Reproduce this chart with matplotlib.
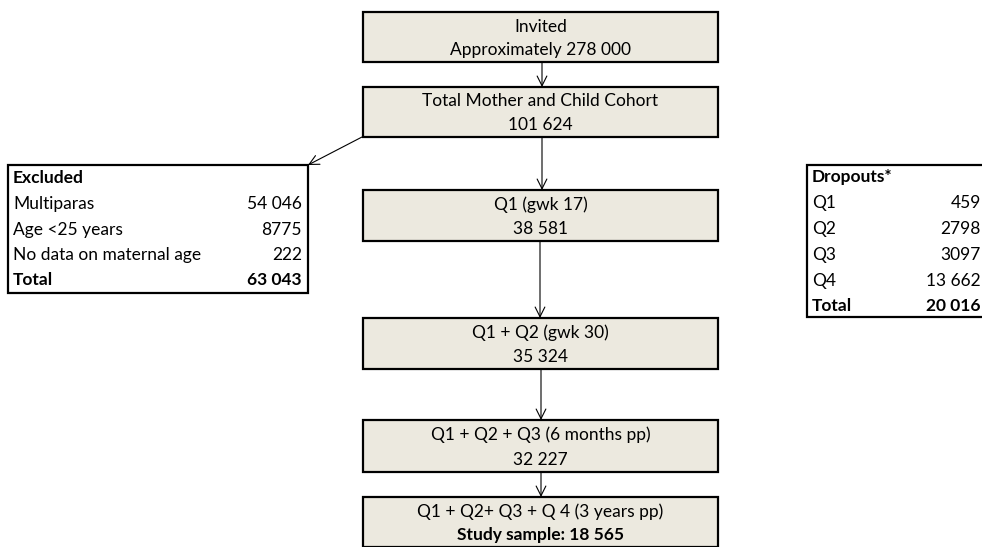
import matplotlib.pyplot as plt
from matplotlib.patches import Rectangle

plt.rcParams['font.family'] = ['Lato', 'DejaVu Sans']

# flow boxes down the middle
flow_titles = ['Invited', 'Total Mother and Child Cohort', 'Q1 (gwk 17)', 'Q1 + Q2 (gwk 30)',
               'Q1 + Q2 + Q3 (6 months pp)', 'Q1 + Q2+ Q3 + Q 4 (3 years pp)']
flow_counts = ['Approximately 278 000', '101 624', '38 581', '35 324', '32 227', 'Study sample: 18 565']
flow_tops = [12, 87, 190, 318, 420, 497]
flow_bottoms = [62, 137, 241, 369, 472, 547]

# side tables
excl_labels = ['Multiparas', 'Age <25 years', 'No data on maternal age']
excl_values = ['54 046', '8775', '222']
excl_total = '63 043'
drop_labels = ['Q1', 'Q2', 'Q3', 'Q4']
drop_values = ['459', '2798', '3097', '13 662']
drop_total = '20 016'

fill = '#ECE9DF'
fs = 12.5

fig = plt.figure(figsize=(9.82, 5.47), dpi=100)
ax = fig.add_axes([0, 0, 1, 1])
ax.set_xlim(0, 982)
ax.set_ylim(547, 0)
ax.axis('off')

x0, x1 = 363, 718
xc = (x0 + x1) / 2
for i, (t, c) in enumerate(zip(flow_titles, flow_counts)):
    top, bot = flow_tops[i], flow_bottoms[i]
    ax.add_patch(Rectangle((x0, top), x1 - x0, bot - top, facecolor=fill,
                           edgecolor='black', lw=1.6))
    ax.text(xc, top + (bot - top) * 0.29, t, ha='center', va='center', fontsize=fs)
    ax.text(xc, top + (bot - top) * 0.76, c, ha='center', va='center', fontsize=fs,
            fontweight='bold' if i == len(flow_titles) - 1 else 'normal')

# arrows between flow boxes
arrow_x = [542, 542, 540, 541, 541]
for i in range(len(flow_tops) - 1):
    ax.annotate('', xy=(arrow_x[i], flow_tops[i + 1]), xytext=(arrow_x[i], flow_bottoms[i]),
                arrowprops=dict(arrowstyle='->,head_length=0.7,head_width=0.35', lw=0.8, color='black',
                                shrinkA=0, shrinkB=0))
ax.annotate('', xy=(308, 165), xytext=(362, 137),
            arrowprops=dict(arrowstyle='->,head_length=0.7,head_width=0.35', lw=0.8, color='black',
                            shrinkA=0, shrinkB=0))

# excluded table
ax.add_patch(Rectangle((8, 165), 300, 128, facecolor='white', edgecolor='black', lw=1.6))
rows_y = [178, 204, 230, 255, 280]
ax.text(13, rows_y[0], 'Excluded', va='center', fontsize=fs, fontweight='bold')
for y, lab, val in zip(rows_y[1:4], excl_labels, excl_values):
    ax.text(13, y, lab, va='center', fontsize=fs)
    ax.text(302, y, val, va='center', ha='right', fontsize=fs)
ax.text(13, rows_y[4], 'Total', va='center', fontsize=fs, fontweight='bold')
ax.text(302, rows_y[4], excl_total, va='center', ha='right', fontsize=fs, fontweight='bold')

# dropouts table (cut at the right edge)
ax.add_patch(Rectangle((807, 165), 190, 152, facecolor='white', edgecolor='black', lw=1.6,
                       clip_on=True))
drop_y = [177, 203, 229, 255, 281, 306]
ax.text(812, drop_y[0], 'Dropouts*', va='center', fontsize=fs, fontweight='bold')
for y, lab, val in zip(drop_y[1:5], drop_labels, drop_values):
    ax.text(812, y, lab, va='center', fontsize=fs)
    ax.text(981, y, val, va='center', ha='right', fontsize=fs)
ax.text(812, drop_y[5], 'Total', va='center', fontsize=fs, fontweight='bold')
ax.text(981, drop_y[5], drop_total, va='center', ha='right', fontsize=fs, fontweight='bold')

fig.savefig('out.png', dpi=100)
